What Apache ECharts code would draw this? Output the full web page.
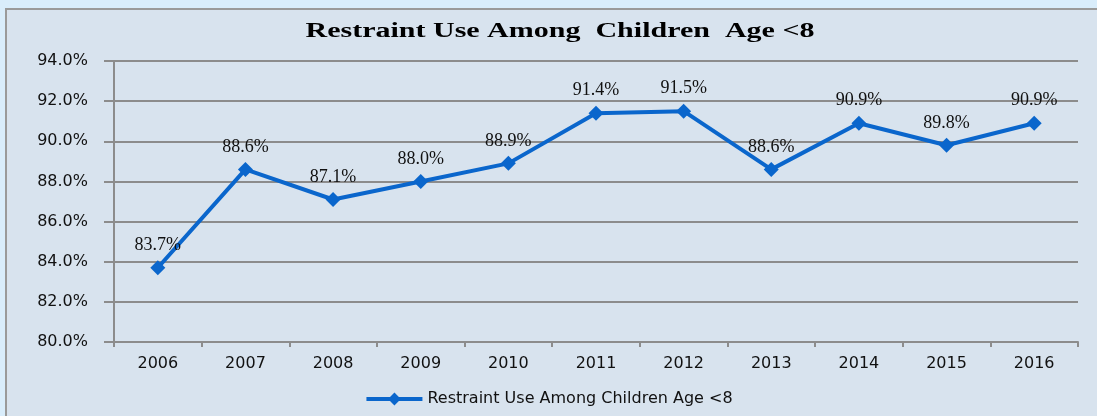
<!DOCTYPE html>
<html>
<head>
<meta charset="utf-8">
<script src="https://cdn.jsdelivr.net/npm/echarts@6/dist/echarts.min.js"></script>
<style>
  html, body { margin: 0; padding: 0; background: #d9edfb; }
  #chart { width: 1097px; height: 416px; }
</style>
</head>
<body>
<div id="chart"></div>
<script>
var years = ['2006', '2007', '2008', '2009', '2010', '2011', '2012', '2013', '2014', '2015', '2016'];
var restraintUse = [83.7, 88.6, 87.1, 88.0, 88.9, 91.4, 91.5, 88.6, 90.9, 89.8, 90.9];
var seriesName = 'Restraint Use Among Children Age <8';
var chartTitle = 'Restraint Use Among  Children  Age <8';

var myChart = echarts.init(document.getElementById('chart'));

var option = {
    backgroundColor: '#d9edfb',
    animation: false,
    graphic: [{
        type: 'rect',
        z: -10,
        shape: { x: 6, y: 9, width: 1100, height: 420 },
        style: { fill: '#d8e3ee', stroke: '#9a9a9a', lineWidth: 2 }
    }, {
        // title, stretched horizontally like the original
        type: 'text',
        x: 560,
        y: 32,
        scaleX: 1.5,
        style: {
            text: chartTitle,
            textAlign: 'center',
            textVerticalAlign: 'middle',
            font: 'bold 20px "Liberation Serif"',
            fill: '#000'
        }
    }],
    legend: {
        bottom: 4,
        left: 'center',
        itemWidth: 56,
        itemHeight: 16,
        itemGap: 6,
        lineStyle: { width: 4 },
        textStyle: { fontFamily: 'DejaVu Sans', fontSize: 16, color: '#111' },
        data: [seriesName]
    },
    grid: {
        left: 114,
        right: 19,
        top: 61,
        bottom: 74
    },
    xAxis: {
        type: 'category',
        data: years,
        boundaryGap: true,
        axisLine: { lineStyle: { color: '#8c8c8c', width: 2 } },
        axisTick: { show: true, length: 5, lineStyle: { color: '#8c8c8c', width: 2 } },
        axisLabel: { fontFamily: 'DejaVu Sans', fontSize: 16, color: '#111', margin: 14 }
    },
    yAxis: {
        type: 'value',
        min: 80,
        max: 94,
        interval: 2,
        axisLine: { show: true, lineStyle: { color: '#8c8c8c', width: 2 } },
        axisTick: { show: true, length: 10, lineStyle: { color: '#8c8c8c', width: 2 } },
        splitLine: { lineStyle: { color: '#8c8c8c', width: 2 } },
        axisLabel: {
            fontFamily: 'DejaVu Sans',
            fontSize: 16,
            color: '#111',
            margin: 26,
            formatter: function (v) { return v.toFixed(1) + '%'; }
        }
    },
    series: [{
        name: seriesName,
        type: 'line',
        data: restraintUse,
        symbol: 'diamond',
        symbolSize: 15,
        color: '#0a66cc',
        lineStyle: { width: 4, color: '#0a66cc' },
        itemStyle: { color: '#0a66cc' },
        label: {
            show: true,
            position: 'top',
            distance: 6,
            fontFamily: 'Liberation Serif',
            fontSize: 18,
            color: '#111',
            formatter: function (p) { return p.value.toFixed(1) + '%'; }
        }
    }]
};

if (option && typeof option === "object") {
    myChart.setOption(option, true);
}
</script>
</body>
</html>
